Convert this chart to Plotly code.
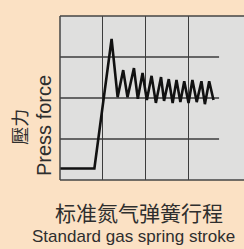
import plotly.graph_objects as go

# stroke position (grid units) and press force (grid units)
stroke = [0.0, 0.80, 1.20, 1.34, 1.47, 1.57, 1.72, 1.81, 1.92, 2.02, 2.13, 2.23, 2.35, 2.42,
          2.53, 2.62, 2.71, 2.80, 2.89, 2.99, 3.08, 3.18, 3.29, 3.37, 3.47, 3.57]
force = [0.28, 0.28, 3.44, 2.02, 2.68, 2.02, 2.73, 1.98, 2.61, 1.95, 2.54, 1.88, 2.51, 1.93,
         2.46, 1.88, 2.44, 1.90, 2.41, 1.88, 2.44, 1.90, 2.41, 1.85, 2.41, 1.95]

grid_x = [1, 2, 3]
grid_y = [1, 2, 3]
x_max = 4.28
y_max = 4
hgrid_end = 3.7

bg = "#FBE1C4"
plot_bg = "#DFDFDE"
grid_col = "#3C3C3C"

fig = go.Figure()
fig.add_trace(go.Scatter(x=stroke, y=force, mode="lines",
                         line=dict(color="#111111", width=2.6), hoverinfo="skip"))

shapes = []
for gy in grid_y:
    shapes.append(dict(type="line", xref="x", yref="y", x0=0, x1=hgrid_end, y0=gy, y1=gy,
                       line=dict(color=grid_col, width=1.3), layer="below"))
# borders
shapes.append(dict(type="line", xref="paper", yref="paper", x0=0, x1=1, y0=1, y1=1,
                   line=dict(color="#444444", width=1.5)))
shapes.append(dict(type="line", xref="paper", yref="paper", x0=0, x1=1, y0=0, y1=0,
                   line=dict(color="#444444", width=1.5)))
shapes.append(dict(type="line", xref="paper", yref="paper", x0=0, x1=0, y0=0, y1=1,
                   line=dict(color="#444444", width=1.5)))

annotations = [
    dict(text="Press force", xref="paper", yref="paper", x=-0.087, y=0.335, textangle=-90,
         showarrow=False, font=dict(family="Liberation Sans, Arial", size=20, color="#2E2E2E"),
         xanchor="center", yanchor="middle"),
    dict(text="壓力", xref="paper", yref="paper", x=-0.225, y=0.323, textangle=-90,
         showarrow=False, font=dict(family="Noto Sans CJK TC", size=18, color="#2E2E2E"),
         xanchor="center", yanchor="middle"),
    dict(text="标准氮气弹簧行程", xref="paper", yref="paper", x=0.427, y=-0.198,
         showarrow=False, font=dict(family="Noto Sans CJK SC", size=21, color="#2E2E2E"),
         xanchor="center", yanchor="middle"),
    dict(text="Standard gas spring stroke", xref="paper", yref="paper", x=0.402, y=-0.343,
         showarrow=False, font=dict(family="Liberation Sans, Arial", size=17, color="#2E2E2E"),
         xanchor="center", yanchor="middle"),
]

fig.update_layout(
    width=244, height=249,
    margin=dict(l=60, r=0, t=16, b=69),
    paper_bgcolor=bg, plot_bgcolor=plot_bg,
    showlegend=False,
    shapes=shapes, annotations=annotations,
    xaxis=dict(range=[0, x_max], tickvals=grid_x, showticklabels=False, showgrid=True,
               gridcolor=grid_col, gridwidth=1.3, zeroline=False, showline=False, fixedrange=True),
    yaxis=dict(range=[0, y_max], showgrid=False, showticklabels=False, zeroline=False,
               showline=False, fixedrange=True),
)

fig.write_html("out.html", config={"displayModeBar": False},
               post_script="document.body.style.margin='0';document.body.style.padding='0';"
                           "document.body.style.background='" + bg + "';")
